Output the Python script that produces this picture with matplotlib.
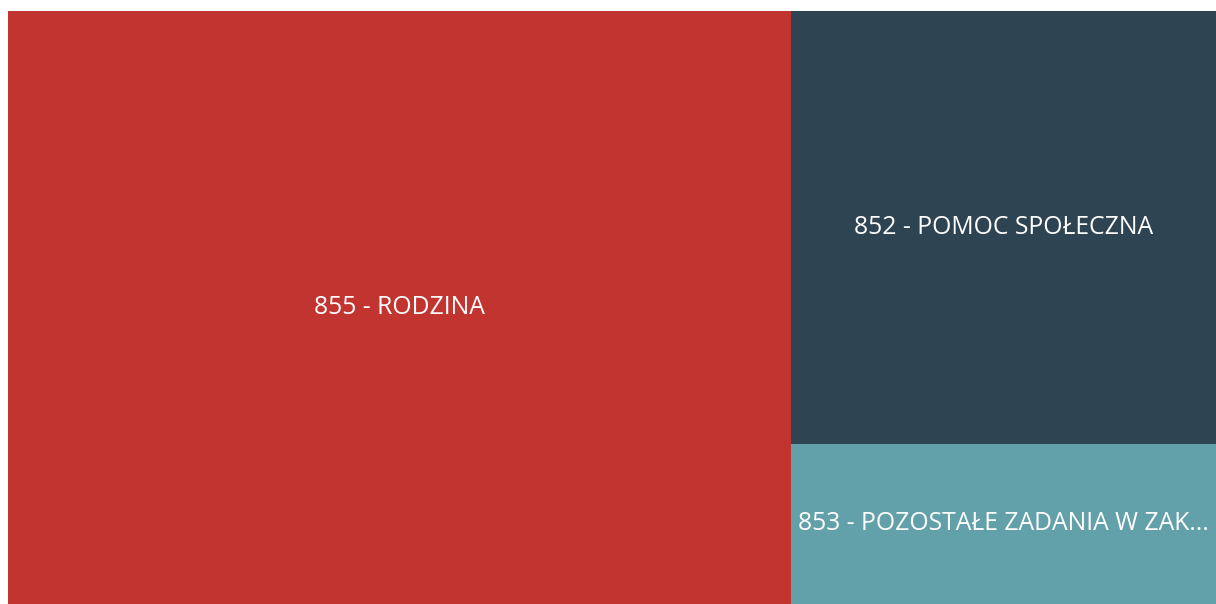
import matplotlib
matplotlib.use('Agg')
import matplotlib.pyplot as plt
from matplotlib.patches import Rectangle

# treemap data (share of total)
labels = ['855 - RODZINA', '852 - POMOC SPOŁECZNA', '853 - POZOSTAŁE ZADANIA W ZAK...']
values = [64.8, 25.7, 9.5]
colors = ['#C13430', '#2E4452', '#62A0AA']

fig = plt.figure(figsize=(12.16, 6.04), dpi=100)
fig.patch.set_facecolor('white')
ax = fig.add_axes([8 / 1216, 0, 1208 / 1216, 593 / 604])
W, H = 1208.0, 593.0
ax.set_xlim(0, W)
ax.set_ylim(0, H)
ax.axis('off')

total = sum(values)
# first item takes a full-height column, the rest stack in the remaining column
w0 = W * values[0] / total
rects = [(0, 0, w0, H)]
rest = sum(values[1:])
y = H
for v in values[1:]:
    h = H * v / rest
    rects.append((w0, y - h, W - w0, h))
    y -= h

for (x, y0, w, h), lab, c in zip(rects, labels, colors):
    ax.add_patch(Rectangle((x, y0), w, h, facecolor=c, edgecolor='none'))
    ax.text(x + w / 2, y0 + h / 2, lab, ha='center', va='center',
            color='white', fontsize=17.8, family=['Open Sans', 'DejaVu Sans'])

fig.savefig('out.png', dpi=100)
